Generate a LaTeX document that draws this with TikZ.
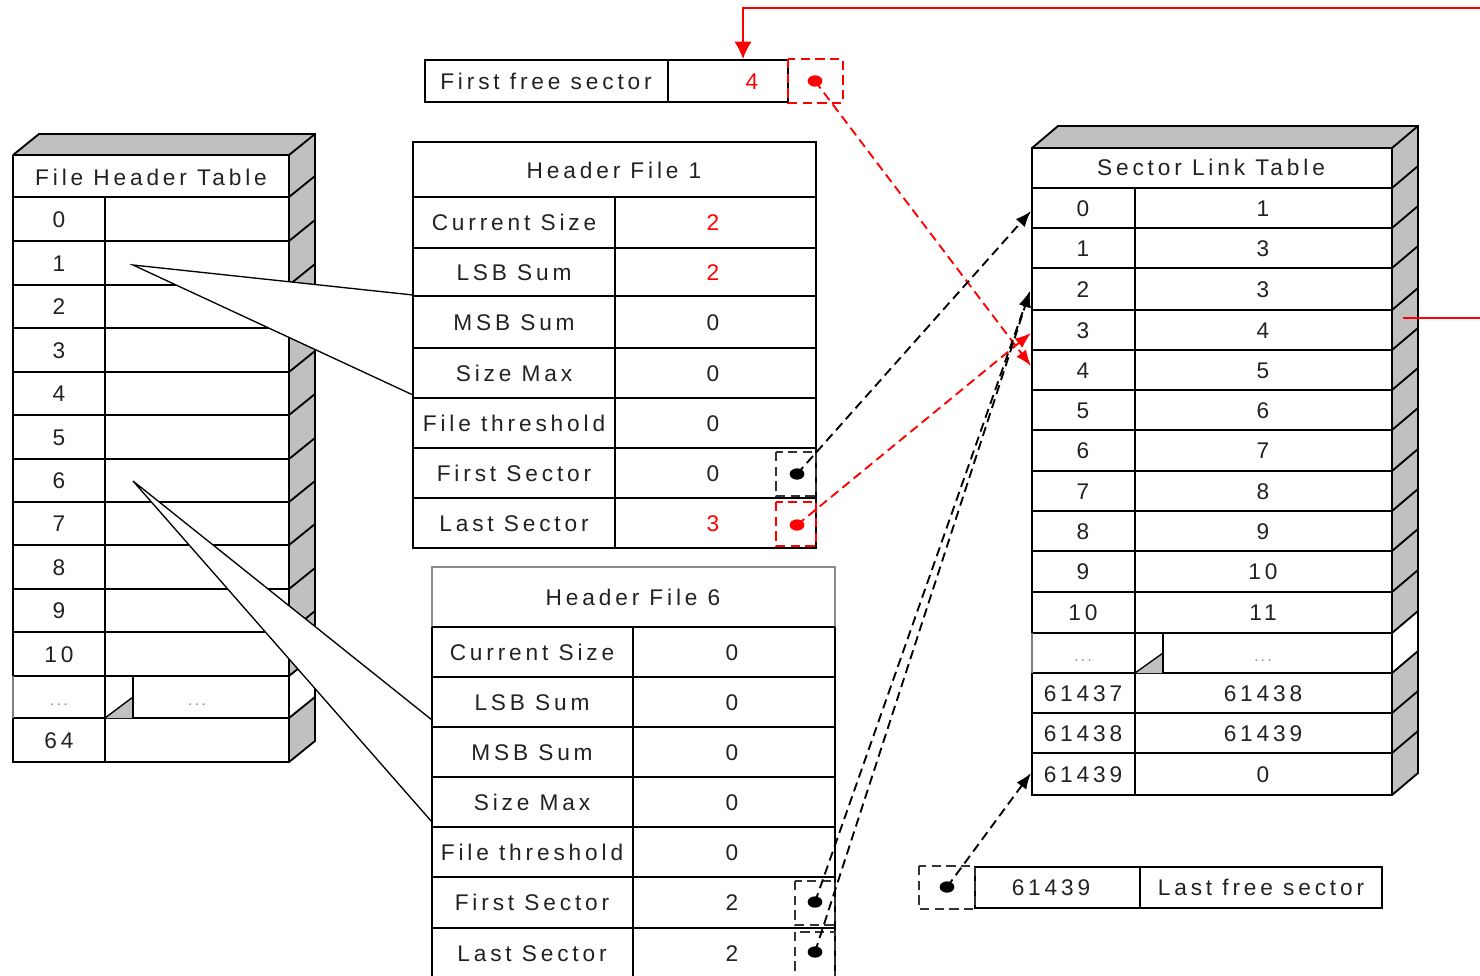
\documentclass[tikz,border=0pt]{standalone}
\usepackage{fontspec}
\setmainfont{Liberation Sans}[LetterSpace=17]
\usetikzlibrary{arrows.meta,shapes.geometric}
\definecolor{sidegray}{HTML}{C0C0C0}
\definecolor{myred}{HTML}{FF0000}
\definecolor{txtc}{HTML}{222222}
\tikzset{
  tl/.style={line width=1.4pt, draw=black},
  lbl/.style={font=\fontsize{17}{20}\selectfont, text=txtc, inner sep=0pt, text height=12.2pt, text depth=0pt},
  rlbl/.style={lbl, text=myred},
  edots/.style={font=\fontsize{11}{12}\selectfont, text=gray, inner sep=0pt, anchor=base},
  callout/.style={fill=white, draw=black, line width=1pt},
  pbox/.style={draw=black!80, dash pattern=on 7pt off 4pt, line width=1.5pt},
  rpbox/.style={pbox, draw=myred},
  dotn/.style={ellipse, fill=black, minimum width=11pt, minimum height=8.5pt, inner sep=0pt},
  rdotn/.style={dotn, fill=myred},
  bdash/.style={draw=black, dash pattern=on 7pt off 4pt, line width=1.4pt, -{Latex[length=12pt,width=9pt]}},
  rdash/.style={bdash, draw=myred},
  rline/.style={draw=myred, line width=1.2pt},
}
\begin{document}
\begin{tikzpicture}[x=0.75pt,y=-0.75pt, line join=miter]
\useasboundingbox (0,0) rectangle (1480,975);
\clip (0,0) rectangle (1480,975);

% ===== File Header Table =====
\fill[sidegray] (289,155)--(315,134)--(315,741)--(289,762)--cycle;
\fill[sidegray] (13,155)--(39,134)--(315,134)--(289,155)--cycle;
\fill[white] (289,676)--(315,655)--(315,697)--(289,718)--cycle;
\draw[tl] (13,155)--(39,134)--(315,134)--(315,741)--(289,762);
\foreach \y in {155,197,241,285,328,372,415,459,502,545,589,632,676,718}
  \draw[tl] (289,\y)--(315,\y-21);
\fill[white] (13,155) rectangle (289,762);
\foreach \y in {197,241,285,328,372,415,459,502,545,589,632,676,718}
  \draw[tl] (13,\y)--(289,\y);
\draw[tl] (13,155)--(289,155)--(289,762)--(13,762)--(13,718);
\draw[tl] (13,676)--(13,155);
\draw[line width=1pt, draw=gray] (13,676)--(13,718);
\draw[tl] (105,197)--(105,762);
\fill[sidegray] (105,718)--(133,697)--(133,718)--cycle;
\draw[line width=1pt] (105,718)--(133,697);
\draw[tl] (133,676)--(133,718);
\node[lbl] (fhtT) at (151,177) {File Header Table};
\foreach \y/\t [count=\i] in {219/0,263/1,306.5/2,350/3,393.5/4,437/5,480.5/6,523.5/7,567/8,610.5/9,654/10,740/64}
  \node[lbl] (fht\i) at (59,\y) {\t};
\node[edots] (fhtE1) at (59,705) {...};
\node[edots] (fhtE2) at (197,705) {...};

% ===== callouts =====
\coordinate (c1) at (133,265);
\coordinate (c6) at (133,481);
\draw[callout] (c1)--(413,295)--(413,395)--cycle;
\draw[callout] (c6)--(432,720)--(432,822)--cycle;

% ===== Header File 1 =====
\fill[white] (413,142) rectangle (816,548);
\draw[tl] (413,142) rectangle (816,548);
\foreach \y in {197,248,296,348,398,448,498}
  \draw[tl] (413,\y)--(816,\y);
\draw[tl] (615,197)--(615,548);
\node[lbl] (hf1T) at (614,170) {Header File 1};
\foreach \y/\t/\v/\s [count=\i] in {222.5/Current Size/2/rlbl,272/LSB Sum/2/rlbl,322/MSB Sum/0/lbl,373/Size Max/0/lbl,423/File threshold/0/lbl,473/First Sector/0/lbl,523/Last Sector/3/rlbl}{
  \node[lbl] (hf1L\i) at (514,\y) {\t};
  \node[\s] (hf1V\i) at (713,\y) {\v};
}
\draw[pbox] (776,452) rectangle (816,496);
\draw[rpbox] (776,502) rectangle (816,546);
\node[dotn] (hf1fs) at (797,474) {};
\node[rdotn] (hf1ls) at (797,525) {};

% ===== Header File 6 =====
\fill[white] (432,567) rectangle (835,990);
\draw[tl] (432,627)--(432,990);
\draw[tl] (835,627)--(835,990);
\draw[line width=1.6pt, draw=black!45] (432,627)--(432,567)--(835,567)--(835,627);
\foreach \y in {627,677,727,777,827,877,928}
  \draw[tl] (432,\y)--(835,\y);
\draw[tl] (633,627)--(633,990);
\node[lbl] (hf6T) at (633,597) {Header File 6};
\foreach \y/\t/\v [count=\i] in {652/Current Size/0,702/LSB Sum/0,752/MSB Sum/0,802/Size Max/0,852/File threshold/0,902.5/First Sector/2,953/Last Sector/2}{
  \node[lbl] (hf6L\i) at (532,\y) {\t};
  \node[lbl] (hf6V\i) at (732,\y) {\v};
}
\draw[pbox] (795,881) rectangle (835,925);
\draw[pbox] (795,932) rectangle (835,980);
\node[dotn] (hf6fs) at (815,902) {};
\node[dotn] (hf6ls) at (815,952) {};

% ===== First free sector =====
\draw[tl] (425,60) rectangle (788,102);
\draw[tl] (668,60)--(668,102);
\node[lbl] (ffsL) at (546,81) {First free sector};
\node[rlbl] (ffsV) at (752,81) {4};
\draw[rpbox] (788,59) rectangle (843,103);
\node[rdotn] (ffsP) at (815,81) {};
\coordinate (ffsIn) at (743,59);

% ===== Sector Link Table =====
\fill[sidegray] (1392,148)--(1418,126)--(1418,773)--(1392,795)--cycle;
\fill[sidegray] (1032,148)--(1058,126)--(1418,126)--(1392,148)--cycle;
\fill[white] (1392,633)--(1418,611)--(1418,651)--(1392,673)--cycle;
\draw[tl] (1032,148)--(1058,126)--(1418,126)--(1418,773)--(1392,795);
\foreach \y in {148,188,228,268,310,350,390,430,471,511,551,592,633,673,713,753}
  \draw[tl] (1392,\y)--(1418,\y-22);
\fill[white] (1032,148) rectangle (1392,795);
\foreach \y in {188,228,268,310,350,390,430,471,511,551,592,633,673,713,753}
  \draw[tl] (1032,\y)--(1392,\y);
\draw[tl] (1032,633)--(1032,148)--(1392,148)--(1392,795)--(1032,795)--(1032,673);
\draw[line width=1pt, draw=gray] (1032,633)--(1032,673);
\draw[tl] (1135,188)--(1135,795);
\fill[sidegray] (1135,673)--(1163,653)--(1163,673)--cycle;
\draw[line width=1pt] (1135,673)--(1163,653);
\draw[tl] (1163,633)--(1163,673);
\node[lbl] (sltT) at (1211,167) {Sector Link Table};
\foreach \y/\a/\b [count=\i] in {208/0/1,248/1/3,289/2/3,330/3/4,370/4/5,410/5/6,450.5/6/7,491/7/8,531/8/9,571.5/9/10,612.5/10/11,693/61437/61438,733/61438/61439,774/61439/0}{
  \node[lbl] (sltA\i) at (1083,\y) {\a};
  \node[lbl] (sltB\i) at (1263,\y) {\b};
}
\node[edots] (sltE1) at (1083,661) {...};
\node[edots] (sltE2) at (1263,661) {...};
\coordinate (slt0) at (1031,211);
\coordinate (slt2) at (1030,291);
\coordinate (slt3) at (1031,333);
\coordinate (slt4) at (1031,366);
\coordinate (sltLast) at (1031,773);
\coordinate (sltSide) at (1403,318);
\coordinate (outSide) at (1490,318);
\coordinate (outTop) at (1490,8);

% ===== Last free sector =====
\draw[tl] (975,867) rectangle (1382,908);
\draw[tl] (1140,867)--(1140,908);
\node[lbl] (lfsV) at (1051,887.5) {61439};
\node[lbl] (lfsL) at (1261,887.5) {Last free sector};
\draw[pbox] (919,866) rectangle (975,909);
\node[dotn] (lfsP) at (947,887) {};

% ===== connectors =====
\draw[rline, -{Latex[length=13pt,width=13pt]}] (outTop) -| (ffsIn);
\draw[rline] (sltSide) -- (outSide);
\draw[rdash] (ffsP.center) -- (slt4);
\draw[rdash] (hf1ls.center) -- (slt3);
\draw[bdash] (hf1fs.center) -- (slt0);
\draw[bdash] (hf6fs.center) -- (slt2);
\draw[bdash] (hf6ls.center) -- (slt2);
\draw[bdash] (lfsP.center) -- (sltLast);
\end{tikzpicture}
\end{document}
